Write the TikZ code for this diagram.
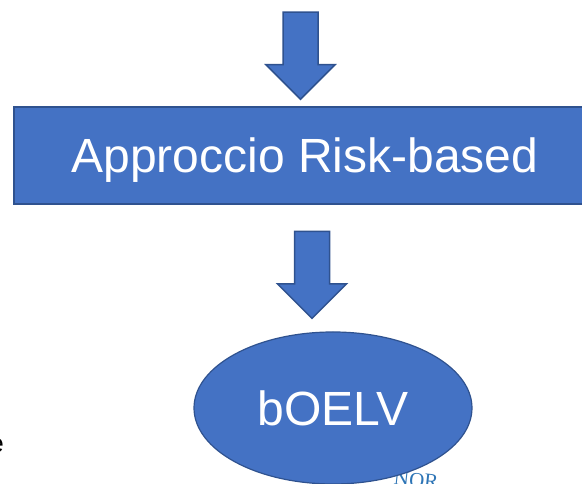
\documentclass[tikz,border=0pt]{standalone}
\usepackage{fontspec}
\setmainfont{Liberation Sans}
\newfontfamily\logofont{Liberation Serif}
\usetikzlibrary{shapes.geometric,positioning,calc}
\definecolor{OfficeBlue}{RGB}{68,114,196}
\definecolor{OfficeEdge}{RGB}{47,82,143}
\definecolor{LogoBlue}{RGB}{46,117,182}

\begin{document}
\begin{tikzpicture}[x=1pt,y=1pt,
  blockbox/.style={draw=OfficeEdge,fill=OfficeBlue,line width=1.5pt,
                   minimum width=582pt,minimum height=97pt,
                   text=white,font=\fontsize{48}{56}\selectfont,text depth=0pt},
  blockoval/.style={ellipse,draw=OfficeEdge,fill=OfficeBlue,line width=1.2pt,
                    minimum width=278pt,minimum height=152pt,
                    text=white,font=\fontsize{48}{56}\selectfont,text depth=0pt},
  downarrow/.pic={\draw[draw=OfficeEdge,fill=OfficeBlue,line width=1.5pt,line join=miter]
      (0,0) -- (-34.5,34.5) -- (-17.5,34.5) -- (-17.5,87) -- (17.5,87)
      -- (17.5,34.5) -- (34.5,34.5) -- cycle;},
]
\useasboundingbox (0,0) rectangle (582,484);
\node[font=\fontsize{26}{30}\selectfont,anchor=east,inner sep=0pt] (cut) at (4,38) {e};
\node[font=\logofont\fontsize{21}{24}\selectfont,text=LogoBlue,anchor=north,rotate=-6,inner sep=0pt] (logo) at (417,11) {NOR};
\node[blockbox] (risk) at (305,328.5) {Approccio Risk-based};
\node[blockoval] (boelv) at (333,76) {bOELV};
\coordinate (tip1) at ($(risk.north)+(-4.5,7)$);
\coordinate (tip2) at ($(boelv.north)+(-21,13)$);
\pic at (tip1) {downarrow};
\pic at (tip2) {downarrow};
\end{tikzpicture}
\end{document}
